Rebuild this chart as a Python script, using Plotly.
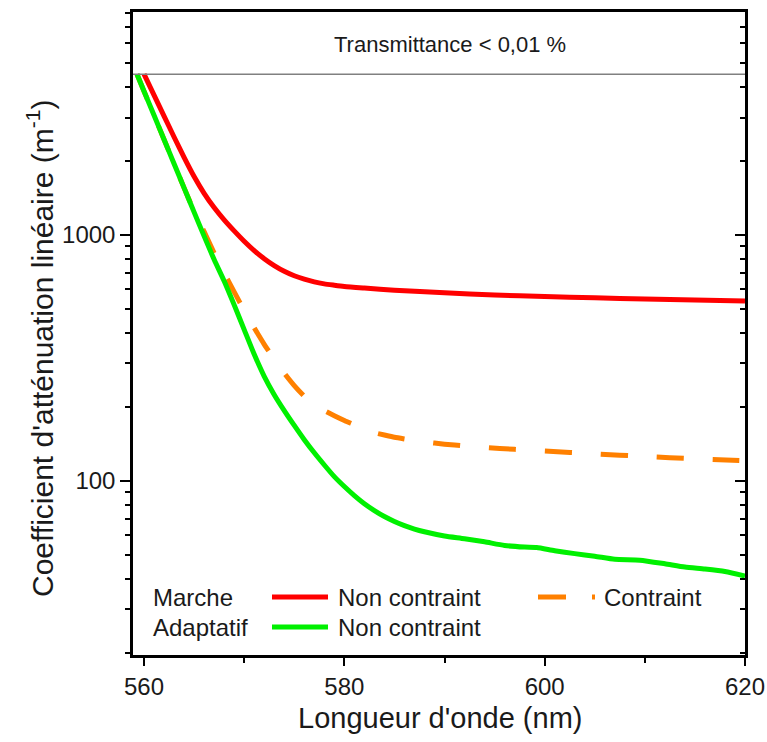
import plotly.graph_objects as go

# ---------------- data ----------------
wl_red = [560, 561, 562, 563, 564, 565, 566, 567, 568, 569, 570, 571, 572, 573, 574,
          575, 576, 577, 578, 579, 580, 582, 585, 590, 595, 600, 605, 610, 615, 620]
att_red = [4500, 3698, 3041, 2500, 2065, 1726, 1476, 1291, 1151, 1038, 942, 863, 800, 750, 711,
           682, 661, 644, 632, 624, 617, 608, 596, 581, 570, 561, 555, 548, 543, 538]

wl_green = [559.3, 560, 561, 562, 563, 564, 565, 566, 567, 568, 569, 570, 571, 572, 573, 574,
            575, 576, 577, 578, 579, 580, 581, 582, 583, 584, 585, 586, 587, 588, 590, 592, 594,
            596, 598, 599.2, 601, 603, 605, 607, 609.5, 612, 614, 616, 618, 620]
att_green = [4500, 3838, 3062, 2443, 1946, 1552, 1237, 988, 794, 649, 519, 412, 327, 266, 224, 193,
             168, 147, 130, 116, 104, 94.8, 87.1, 80.7, 75.7, 71.6, 68.4, 65.8, 63.7, 62.1, 59.7, 58.2, 56.5,
             54.6, 53.8, 53.6, 52, 50.6, 49.4, 48, 47.6, 46, 44.6, 43.8, 42.8, 41]

wl_orange = [559.3, 560, 561, 562, 563, 564, 565, 566, 567, 568, 569, 570, 571, 572, 573, 574,
             575, 576, 577, 578, 579, 580, 581, 582, 583, 584, 585, 586, 588, 590, 592, 594, 597,
             600, 605, 610, 615, 620]
att_orange = [4500, 3838, 3062, 2443, 1946, 1552, 1250, 1030, 843, 700, 586, 493, 419, 359, 312, 274,
              244, 221, 204, 193, 184, 176, 169, 162, 157, 153.5, 150.3, 148, 144, 141, 138.7, 136.8, 134.3,
              132.1, 128.8, 125.6, 123, 120.8]

TRANSMITTANCE_LIMIT = 4500          # m^-1, "Transmittance < 0,01 %"
X_RANGE = [558.9, 620]
Y_RANGE_LOG = [1.292, 3.906]
X_TICKS = [560, 580, 600, 620]
X_MINOR = [570, 590, 610]
Y_TICKS = [100, 1000]
Y_TICK_TEXT = ["100", "1000"]
Y_MINOR = [m * d for d in (10, 100, 1000) for m in range(2, 10)]

FONT = "Liberation Sans, Arial, sans-serif"
RED, GREEN, ORANGE = "#FF0000", "#00F000", "#FF8000"

fig = go.Figure()
fig.add_trace(go.Scatter(x=wl_orange, y=att_orange, mode="lines", yaxis="y",
                         line=dict(color=ORANGE, width=5, dash="27px,29px", shape="spline", smoothing=0.6),
                         hoverinfo="skip"))
fig.add_trace(go.Scatter(x=wl_green, y=att_green, mode="lines", yaxis="y",
                         line=dict(color=GREEN, width=5, shape="spline", smoothing=0.6),
                         hoverinfo="skip"))
fig.add_trace(go.Scatter(x=wl_red, y=att_red, mode="lines", yaxis="y2",
                         line=dict(color=RED, width=5, shape="spline", smoothing=0.6),
                         hoverinfo="skip"))

L, R, T, B = 133, 22, 12, 87
W, H = 767, 742
PW, PH = W - L - R, H - T - B


def px(xp):
    return (xp - L) / PW


def py(yp):
    return (H - B - yp) / PH


axis_common = dict(showgrid=False, zeroline=False, linecolor="black", linewidth=2.5,
                   tickcolor="black", tickwidth=2, automargin=False)

fig.update_layout(
    width=W, height=H, autosize=False,
    margin=dict(l=L, r=R, t=T, b=B, pad=0, autoexpand=False),
    paper_bgcolor="white", plot_bgcolor="white",
    showlegend=False,
    font=dict(family=FONT, size=24, color="#1a1a1a"),
    xaxis=dict(range=X_RANGE, tickmode="array", tickvals=X_TICKS, ticks="outside", ticklen=8,
               showline=True, mirror=True,
               minor=dict(tickmode="array", tickvals=X_MINOR, ticks="outside", ticklen=5,
                          tickcolor="black", tickwidth=2),
               tickfont=dict(size=24), **axis_common),
    yaxis=dict(type="log", range=Y_RANGE_LOG, tickmode="array", tickvals=Y_TICKS, ticktext=Y_TICK_TEXT,
               ticks="outside", ticklen=10, showline=True, mirror=False,
               minor=dict(tickmode="array", tickvals=Y_MINOR, ticks="outside", ticklen=5,
                          tickcolor="black", tickwidth=2),
               tickfont=dict(size=24), **axis_common),
    yaxis2=dict(type="log", range=Y_RANGE_LOG, overlaying="y", side="right", tickmode="array",
                tickvals=Y_TICKS, ticks="inside", ticklen=10, showticklabels=False, showline=True,
                minor=dict(tickmode="array", tickvals=Y_MINOR, ticks="inside", ticklen=5,
                           tickcolor="black", tickwidth=2),
                **axis_common),
)

shapes = [
    dict(type="line", xref="paper", yref="y", x0=0, x1=1, y0=TRANSMITTANCE_LIMIT, y1=TRANSMITTANCE_LIMIT,
         line=dict(color="#808080", width=1.5)),
    # legend samples
    dict(type="line", xref="paper", yref="paper", x0=px(272), x1=px(328), y0=py(597), y1=py(597),
         line=dict(color=RED, width=5)),
    dict(type="line", xref="paper", yref="paper", x0=px(272), x1=px(328), y0=py(627), y1=py(627),
         line=dict(color=GREEN, width=5)),
    dict(type="line", xref="paper", yref="paper", x0=px(538), x1=px(566), y0=py(597), y1=py(597),
         line=dict(color=ORANGE, width=5)),
    dict(type="line", xref="paper", yref="paper", x0=px(592), x1=px(595), y0=py(597), y1=py(597),
         line=dict(color=ORANGE, width=5)),
]
fig.update_layout(shapes=shapes)

ann = [
    dict(text="Transmittance < 0,01 %", x=px(450), y=py(45), font=dict(size=22)),
    dict(text="Marche", x=px(151), y=py(597), xanchor="left"),
    dict(text="Adaptatif", x=px(151), y=py(627), xanchor="left"),
    dict(text="Non contraint", x=px(336), y=py(597), xanchor="left"),
    dict(text="Non contraint", x=px(336), y=py(627), xanchor="left"),
    dict(text="Contraint", x=px(602), y=py(597), xanchor="left"),
    dict(text="Longueur d'onde (nm)", x=px(440), y=py(718), font=dict(size=29)),
    dict(text="Coefficient d'atténuation linéaire (m<sup>-1</sup>)", x=px(40), y=py(349),
         textangle=-90, font=dict(size=30)),
]
for a in ann:
    base = dict(xref="paper", yref="paper", showarrow=False, xanchor="center", yanchor="middle")
    base.update(a)
    fig.add_annotation(**base)

fig.write_html("out.html",
               config={"displayModeBar": False, "responsive": False},
               post_script="document.body.style.margin='0';document.body.style.overflow='hidden';"
                           "document.documentElement.style.overflow='hidden';")
